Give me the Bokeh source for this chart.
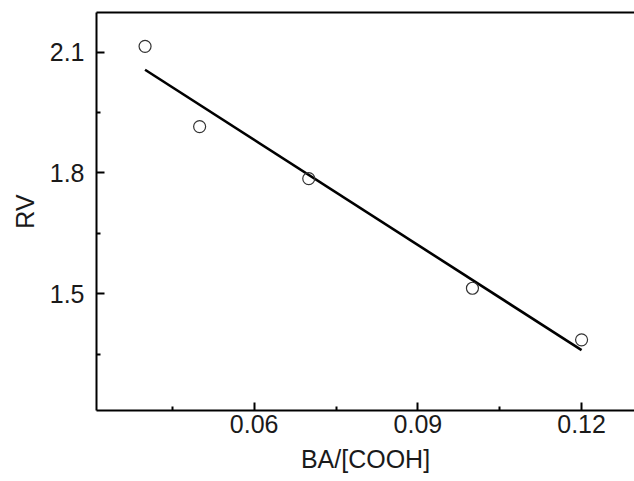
import numpy as np
from bokeh.plotting import figure
from bokeh.models import FixedTicker, LinearAxis, Range1d
from bokeh.embed import file_html
from bokeh.resources import INLINE

# Data
ba_ratio = [0.04, 0.05, 0.07, 0.10, 0.12]
rv_values = [2.114, 1.915, 1.786, 1.514, 1.386]

x_major = [0.06, 0.09, 0.12]
x_minor = [0.045, 0.075, 0.105]
y_major = [1.5, 1.8, 2.1]
y_minor = [1.35, 1.65, 1.95]

# Linear fit of the data
slope, intercept = np.polyfit(ba_ratio, rv_values, 1)
fit_x = [min(ba_ratio), max(ba_ratio)]
fit_y = [slope * v + intercept for v in fit_x]

FONT = "Liberation Sans"
TXT = "#1a1a1a"

p = figure(width=634, height=481, output_backend="svg", toolbar_location=None,
           x_range=Range1d(0.0311, 0.1297), y_range=Range1d(1.2107, 2.198),
           min_border_left=96, min_border_right=0, min_border_top=12, min_border_bottom=71)
p.outline_line_color = None
p.xgrid.visible = False
p.ygrid.visible = False
p.background_fill_color = "white"
p.border_fill_color = "white"

p.line(fit_x, fit_y, line_color="black", line_width=2.6)
p.scatter(ba_ratio, rv_values, size=12, marker="circle", fill_color=None,
          line_color="#333333", line_width=1.2)

for ax, maj, mnr in ((p.xaxis[0], x_major, x_minor), (p.yaxis[0], y_major, y_minor)):
    ax.ticker = FixedTicker(ticks=maj, minor_ticks=mnr)
    ax.major_tick_in = 8
    ax.major_tick_out = 0
    ax.minor_tick_in = 4
    ax.minor_tick_out = 0
    ax.axis_line_width = 2
    ax.axis_line_color = "black"
    ax.major_tick_line_width = 2
    ax.minor_tick_line_width = 2
    ax.major_label_text_font = FONT
    ax.major_label_text_font_size = "25px"
    ax.major_label_text_color = TXT
    ax.axis_label_text_font = FONT
    ax.axis_label_text_font_size = "25px"
    ax.axis_label_text_font_style = "normal"
    ax.axis_label_text_color = TXT

p.xaxis[0].axis_label = "BA/[COOH]"
p.yaxis[0].axis_label = "RV"
p.xaxis[0].major_label_standoff = 4
p.yaxis[0].major_label_standoff = 12
p.xaxis[0].axis_label_standoff = 9
p.yaxis[0].axis_label_standoff = 8

top = LinearAxis(ticker=FixedTicker(ticks=[]), major_label_text_font_size="0px",
                 axis_line_width=2, axis_line_color="black",
                 major_tick_line_color=None, minor_tick_line_color=None)
p.add_layout(top, "above")

open("out.html", "w").write(file_html(p, INLINE))
